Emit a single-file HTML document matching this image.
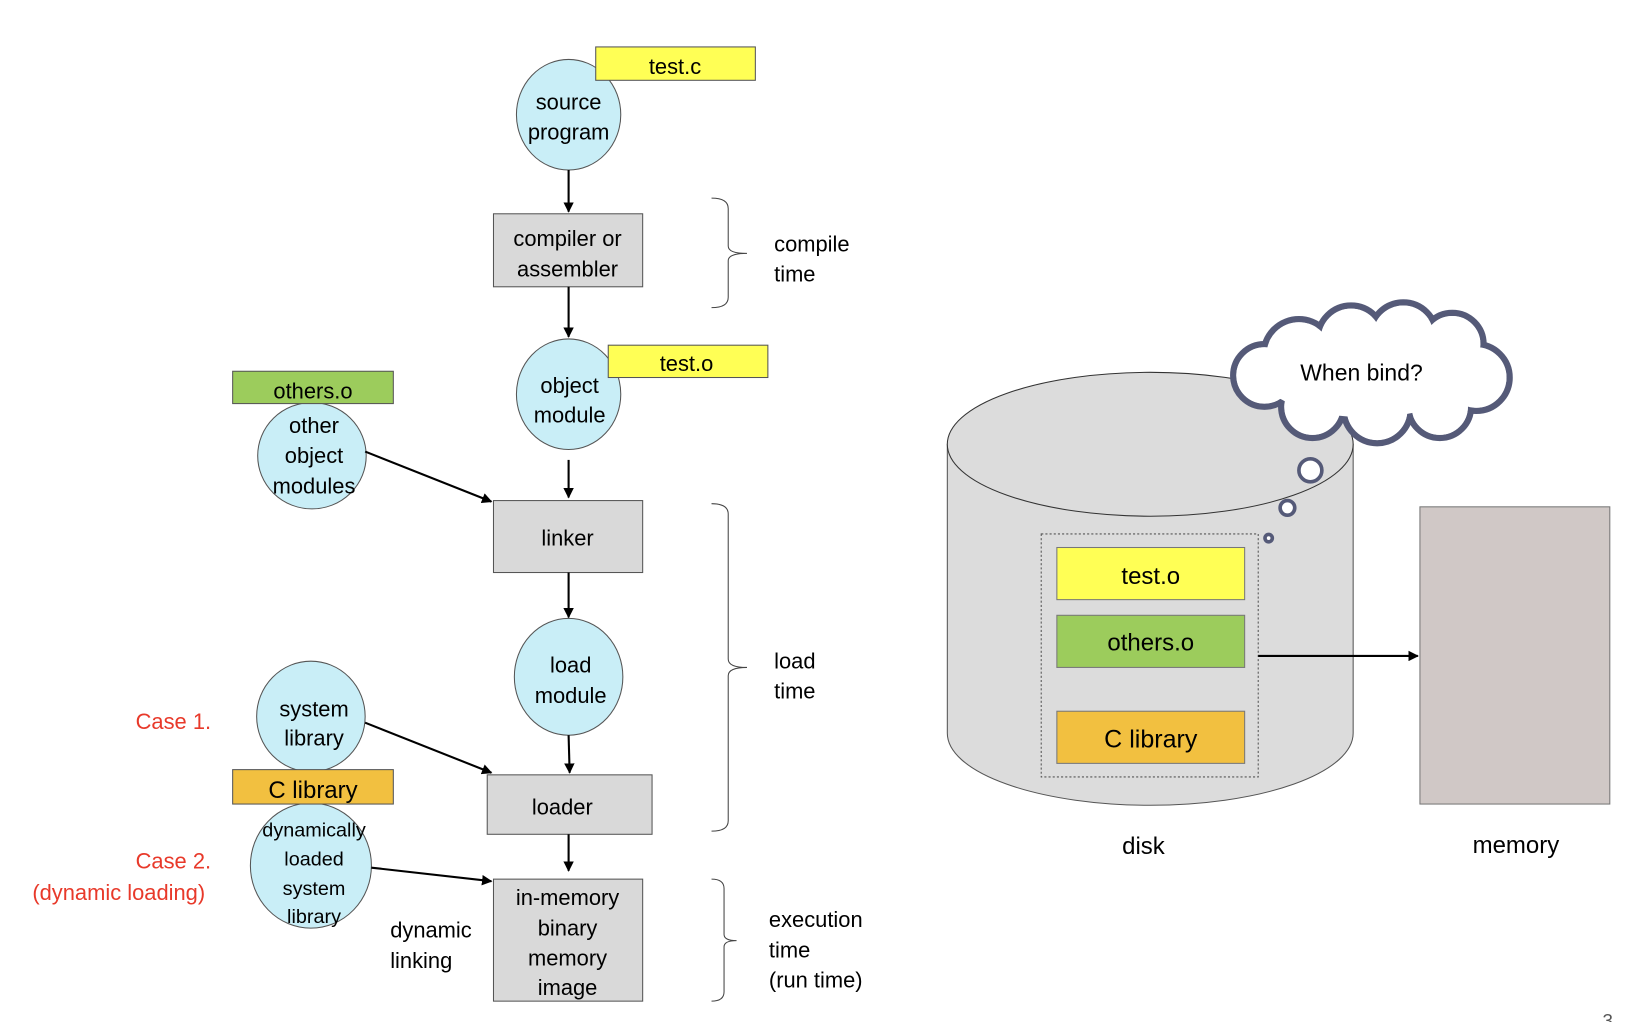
<!DOCTYPE html>
<html><head><meta charset="utf-8"><style>
html,body{margin:0;padding:0;background:#fff;width:1636px;height:1022px;overflow:hidden}
#w{position:absolute;left:0;top:0;width:1560px;height:980px;transform:scale(1.0433,1.04286);transform-origin:0 0}
text{font-family:"Liberation Sans",sans-serif;font-size:21px;fill:#000}
</style></head><body><div id="w">
<svg width="1560" height="980" viewBox="0 0 1560 980" xmlns="http://www.w3.org/2000/svg">
<defs><marker id="a" markerWidth="10" markerHeight="10" refX="9" refY="5" orient="auto" markerUnits="userSpaceOnUse"><path d="M0,0 L10,5 L0,10 z" fill="#000"/></marker></defs>
<g stroke="#555" stroke-width="1">
<ellipse cx="545" cy="110" rx="50" ry="53" fill="#c9eef7"/>
<rect x="571" y="45" width="153" height="32" fill="#ffff55"/>
<rect x="473" y="205" width="143" height="70" fill="#d9d9d9"/>
<ellipse cx="545" cy="378" rx="50" ry="53" fill="#c9eef7"/>
<rect x="583" y="331" width="153" height="31" fill="#ffff55"/>
<ellipse cx="299" cy="437" rx="52" ry="51" fill="#c9eef7"/>
<rect x="223" y="356" width="154" height="31" fill="#9ccc5c"/>
<rect x="473" y="480" width="143" height="69" fill="#d9d9d9"/>
<ellipse cx="545" cy="649" rx="52" ry="56" fill="#c9eef7"/>
<rect x="467" y="743" width="158" height="57" fill="#d9d9d9"/>
<ellipse cx="298" cy="687" rx="52" ry="53" fill="#c9eef7"/>
<ellipse cx="298" cy="830" rx="58" ry="60" fill="#c9eef7"/>
<rect x="223" y="738" width="154" height="33" fill="#f2c040"/>
<rect x="473" y="843" width="143" height="117" fill="#d9d9d9"/>
</g>
<g stroke="#000" stroke-width="2" marker-end="url(#a)">
<line x1="545" y1="163" x2="545" y2="203"/>
<line x1="545" y1="275" x2="545" y2="323"/>
<line x1="350" y1="433" x2="471" y2="481"/>
<line x1="545" y1="441" x2="545" y2="477"/>
<line x1="545" y1="549" x2="545" y2="592"/>
<line x1="545" y1="705" x2="546" y2="741"/>
<line x1="350" y1="693" x2="471" y2="741"/>
<line x1="356" y1="832" x2="471" y2="845"/>
<line x1="545" y1="800" x2="545" y2="835"/>
</g>
<g fill="none" stroke="#444" stroke-width="1">
<path d="M682,190 Q698,190 698,200 L698,236 Q698,243 716,243 Q698,243 698,250 L698,285 Q698,295 682,295"/>
<path d="M682,483 Q698,483 698,493 L698,632 Q698,640 716,640 Q698,640 698,648 L698,787 Q698,797 682,797"/>
<path d="M682,843 Q694,843 694,852 L694,896 Q694,902 706,902 Q694,902 694,908 L694,951 Q694,960 682,960"/>
</g>
<g text-anchor="middle">
<text x="647" y="71">test.c</text>
<text x="545" y="105">source</text><text x="545" y="134">program</text>
<text x="544" y="236">compiler or</text><text x="544" y="265">assembler</text>
<text x="546" y="377">object</text><text x="546" y="405">module</text>
<text x="658" y="356">test.o</text>
<text x="300" y="382">others.o</text>
<text x="301" y="415">other</text><text x="301" y="444">object</text><text x="301" y="473">modules</text>
<text x="544" y="523">linker</text>
<text x="547" y="645">load</text><text x="547" y="674">module</text>
<text x="539" y="781">loader</text>
<text x="301" y="687">system</text><text x="301" y="715">library</text>
<text x="300" y="765" style="font-size:23px">C library</text>
<text x="301" y="802" style="font-size:19px">dynamically</text><text x="301" y="830" style="font-size:19px">loaded</text><text x="301" y="858" style="font-size:19px">system</text><text x="301" y="885" style="font-size:19px">library</text>
<text x="544" y="868">in-memory</text><text x="544" y="897">binary</text><text x="544" y="926">memory</text><text x="544" y="954">image</text>
</g>
<text x="374" y="899">dynamic</text><text x="374" y="928">linking</text>
<text x="130" y="699" style="fill:#e8392a">Case 1.</text>
<text x="130" y="833" style="fill:#e8392a">Case 2.</text>
<text x="31" y="863" style="fill:#e8392a">(dynamic loading)</text>
<text x="742" y="241">compile</text><text x="742" y="270">time</text>
<text x="742" y="641">load</text><text x="742" y="670">time</text>
<text x="737" y="889">execution</text><text x="737" y="918">time</text><text x="737" y="947">(run time)</text>
<path d="M908,426 L908,703 A194,69 0 0 0 1297,703 L1297,426 Z" fill="#dcdcdc" stroke="#555" stroke-width="1"/>
<ellipse cx="1102.5" cy="426" rx="194.5" ry="69" fill="#dcdcdc" stroke="#333" stroke-width="1"/>
<rect x="998" y="512" width="208" height="233" fill="none" stroke="#555" stroke-dasharray="2,2"/>
<rect x="1013" y="525" width="180" height="50" fill="#ffff55" stroke="#777"/>
<rect x="1013" y="590" width="180" height="50" fill="#9ccc5c" stroke="#777"/>
<rect x="1013" y="682" width="180" height="50" fill="#f2c040" stroke="#777"/>
<g text-anchor="middle">
<text x="1103" y="560" style="font-size:23px">test.o</text>
<text x="1103" y="624" style="font-size:23px">others.o</text>
<text x="1103" y="717" style="font-size:24px">C library</text>
<text x="1096" y="819" style="font-size:23px">disk</text>
<text x="1453" y="818" style="font-size:23px">memory</text>
</g>
<line x1="1206" y1="629" x2="1359" y2="629" stroke="#000" stroke-width="2" marker-end="url(#a)"/>
<rect x="1361" y="486" width="182" height="285" fill="#d0c8c6" stroke="#777"/>
<g fill="#fff" stroke="#555a78" stroke-width="6">
<circle cx="1245" cy="340" r="34"/><circle cx="1295" cy="325" r="32"/><circle cx="1345" cy="322" r="32"/><circle cx="1392" cy="330" r="30"/><circle cx="1415" cy="362" r="32"/><circle cx="1380" cy="390" r="30"/><circle cx="1320" cy="393" r="32"/><circle cx="1258" cy="390" r="30"/><circle cx="1212" cy="360" r="30"/>
</g>
<g fill="#fff">
<circle cx="1245" cy="340" r="31"/><circle cx="1295" cy="325" r="29"/><circle cx="1345" cy="322" r="29"/><circle cx="1392" cy="330" r="27"/><circle cx="1415" cy="362" r="29"/><circle cx="1380" cy="390" r="27"/><circle cx="1320" cy="393" r="29"/><circle cx="1258" cy="390" r="27"/><circle cx="1212" cy="360" r="27"/>
<ellipse cx="1310" cy="360" rx="100" ry="40"/>
</g>
<text x="1305" y="365" text-anchor="middle" style="font-size:22px">When bind?</text>
<g fill="#fff" stroke="#555a78" stroke-width="3.5">
<circle cx="1256" cy="451" r="11"/><circle cx="1234" cy="487" r="7"/><circle cx="1216" cy="516" r="3.5"/>
</g>
<text x="1536" y="985" style="font-size:18px;fill:#555">3</text>
</svg></div></body></html>
